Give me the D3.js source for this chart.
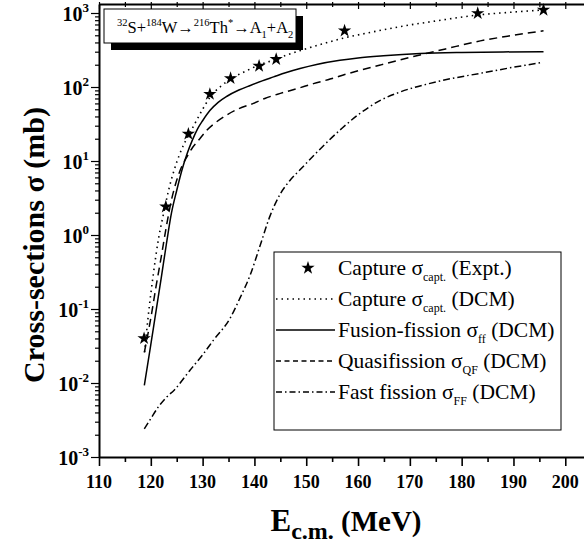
<!DOCTYPE html>
<html>
<head>
<meta charset="utf-8">
<script src="https://cdn.jsdelivr.net/npm/d3@7"></script>
<style>
  html, body { margin: 0; padding: 0; background: #fff; }
  svg { display: block; }
</style>
</head>
<body>
<svg id="chart" width="584" height="543" font-family="'Liberation Serif', serif"></svg>
<script>
// Measured capture cross-sections (Expt.)
const exptE = [118.7, 122.9, 127.25, 131.4, 135.4, 140.9, 144.2, 157.4, 183.1, 195.8];
const exptSigma = [0.040, 2.41, 23.2, 80, 131, 192, 237, 576, 991, 1098];

// DCM capture cross-section
const captE = [118.8, 119.5, 120.5, 121.5, 122.5, 123.5, 124.5, 125.5, 126.5, 127.25, 128.5, 130, 131.4, 133.7, 135.4, 138.5, 141, 144.2, 146.2, 148.8, 153, 157.3, 162, 168.1, 175, 183.2, 190, 195.8];
const captSigma = [0.026, 0.08, 0.3, 0.9, 2.0, 4.2, 7.5, 12, 17.5, 22, 32, 50, 72, 105, 128, 166, 200, 237, 270, 310, 380, 460, 540, 654, 780, 940, 1030, 1100];

// DCM fusion-fission
const ffE = [118.75, 120, 121, 122, 123, 124, 125, 126, 127, 128, 129, 130, 131.4, 133, 134.7, 137, 139.2, 141.5, 143.7, 146, 148.8, 152, 156.5, 160, 164.9, 172, 180, 188, 195.8];
const ffSigma = [0.0093, 0.033, 0.093, 0.26, 0.75, 2.0, 4.0, 7.5, 12.5, 19, 27, 35, 48, 62, 75, 91, 105, 121, 137, 156, 178, 202, 230, 247, 264, 283, 293, 298, 300];

// DCM quasifission
const qfE = [118.75, 120, 121, 122, 123, 124, 125, 126, 127, 128, 129.2, 130.8, 132.5, 134.7, 137, 139.8, 142, 145, 148.2, 151.4, 154.6, 157.8, 164.3, 170.7, 177.1, 183.6, 190, 195.8];
const qfSigma = [0.026, 0.075, 0.2, 0.5, 1.3, 3.0, 5.5, 8.5, 11.5, 15, 19, 26, 33, 42, 51, 60, 70, 82, 95, 111, 128, 150, 198, 258, 330, 420, 500, 576];

// DCM fast fission
const fastE = [118.75, 120, 121.5, 123.1, 124.5, 127.6, 130, 132.1, 135.3, 137.2, 139.2, 141.1, 143, 145, 146.9, 148.8, 152, 156.9, 160, 164.3, 168, 173.9, 178, 183.6, 190, 195.5];
const fastSigma = [0.0024, 0.0033, 0.0048, 0.0065, 0.008, 0.015, 0.024, 0.038, 0.075, 0.14, 0.29, 0.72, 1.8, 3.6, 5.5, 7.6, 13, 27.7, 42, 66, 85, 112, 130, 153, 185, 214];

const xTickValues = [110, 120, 130, 140, 150, 160, 170, 180, 190, 200];
const yTickExponents = [-3, -2, -1, 0, 1, 2, 3];

const svg = d3.select("#chart");
const plotLeft = 99, plotRight = 586, plotTop = 4, plotBottom = 457;
const serif = "'Liberation Serif', serif";

const x = d3.scaleLinear().domain([110, 204]).range([plotLeft, plotRight]);
// 10^-3 sits on the bottom axis, 10^3 a little below the top frame
const yMax = Math.pow(10, 3 + 9 / 74);
const y = d3.scaleLog().domain([1e-3, yMax]).range([plotBottom, plotTop]);

// ---- frame and axes ----
// bottom axis with ticks every 5 MeV, pointing out
const xMinor = d3.range(110, 205, 5);
const gx = svg.append("g").attr("transform", `translate(0,${plotBottom})`)
  .call(d3.axisBottom(x).tickValues(xMinor).tickSize(0).tickFormat(""));
gx.select(".domain").attr("stroke-width", 2);
gx.selectAll(".tick line").remove();
gx.selectAll(".tick").append("line")
  .attr("stroke", "#000").attr("stroke-width", 1.6)
  .attr("y2", d => (d % 10 === 0 ? 9 : 5));

// top axis: frame line with small inward ticks
const gxt = svg.append("g").attr("transform", `translate(0,${plotTop})`)
  .call(d3.axisTop(x).tickValues(xMinor).tickSize(0).tickFormat(""));
gxt.select(".domain").attr("stroke-width", 2);
gxt.selectAll(".tick line").remove();
gxt.selectAll(".tick").append("line")
  .attr("stroke", "#000").attr("stroke-width", 1.2)
  .attr("y1", -2).attr("y2", d => (d % 10 === 0 ? 5 : 3));

// left axis with log minor ticks, pointing out
const yTicksAll = [];
for (let e = -3; e <= 3; e++) {
  for (let k = 1; k <= 9; k++) {
    const v = k * Math.pow(10, e);
    if (v <= yMax * 1.0001) yTicksAll.push({ v, major: k === 1 });
  }
}
const gy = svg.append("g").attr("transform", `translate(${plotLeft},0)`)
  .call(d3.axisLeft(y).tickValues(yTicksAll.map(d => d.v)).tickSize(0).tickFormat(""));
gy.select(".domain").attr("stroke-width", 2);
gy.selectAll(".tick line").remove();
gy.selectAll(".tick").data(yTicksAll).append("line")
  .attr("stroke", "#000").attr("stroke-width", 1.2)
  .attr("x2", d => (d.major ? -8 : -4));

// all text below uses the serif face
const txt = svg.append("g").attr("font-family", serif).attr("fill", "#000");

// tick labels
txt.append("g").selectAll("text").data(xTickValues).join("text")
  .attr("x", d => x(d)).attr("y", 488)
  .attr("text-anchor", "middle")
  .attr("font-size", 18).attr("font-weight", "bold")
  .text(d => d);

const yl = txt.append("g").selectAll("text").data(yTickExponents).join("text")
  .attr("x", 89).attr("y", d => y(Math.pow(10, d)) + 8)
  .attr("text-anchor", "end")
  .attr("font-size", 20).attr("font-weight", "bold");
yl.append("tspan").text("10");
yl.append("tspan").attr("dy", -9).attr("font-size", 13).text(d => String(d));

// axis titles
const xt = txt.append("text").attr("x", 346).attr("y", 531)
  .attr("text-anchor", "middle").attr("font-weight", "bold");
xt.append("tspan").attr("font-size", 31).text("E");
xt.append("tspan").attr("font-size", 24).attr("dy", 8).text("c.m.");
xt.append("tspan").attr("font-size", 29).attr("dy", -8).text(" (MeV)");

txt.append("text")
  .attr("transform", "translate(44,245) rotate(-90)")
  .attr("text-anchor", "middle")
  .attr("font-size", 30).attr("font-weight", "bold")
  .text("Cross-sections σ (mb)");

// ---- curves ----
const plot = svg.append("g");
const line = d3.line().x(d => x(d[0])).y(d => y(d[1])).curve(d3.curveMonotoneX);
const series = [
  { E: captE, s: captSigma, dash: "1.5,4", width: 1.6 },
  { E: ffE, s: ffSigma, dash: null, width: 1.5 },
  { E: qfE, s: qfSigma, dash: "8,5", width: 1.5 },
  { E: fastE, s: fastSigma, dash: "7,3,1.5,3", width: 1.5 }
];
series.forEach(sr => {
  plot.append("path")
    .datum(d3.zip(sr.E, sr.s))
    .attr("fill", "none").attr("stroke", "#000")
    .attr("stroke-width", sr.width)
    .attr("stroke-dasharray", sr.dash)
    .attr("d", line);
});

const star = d3.symbol().type(d3.symbolStar).size(55);
plot.selectAll(".star").data(d3.zip(exptE, exptSigma)).join("path")
  .attr("class", "star")
  .attr("transform", d => `translate(${x(d[0])},${y(d[1])})`)
  .attr("d", star).attr("fill", "#000");

// ---- reaction label box ----
const tb = svg.append("g").attr("font-family", serif);
tb.append("rect").attr("x", 111).attr("y", 16).attr("width", 192).attr("height", 34).attr("fill", "#000");
tb.append("rect").attr("x", 104).attr("y", 9).attr("width", 192).attr("height", 34)
  .attr("fill", "#fff").attr("stroke", "#000").attr("stroke-width", 1);
const tt = tb.append("text").attr("x", 117).attr("y", 33).attr("font-size", 16.5);
tt.append("tspan").attr("font-size", 10.5).attr("dy", -7).text("32");
tt.append("tspan").attr("dy", 7).text("S+");
tt.append("tspan").attr("font-size", 10.5).attr("dy", -7).text("184");
tt.append("tspan").attr("dy", 7).text("W→");
tt.append("tspan").attr("font-size", 10.5).attr("dy", -7).text("216");
tt.append("tspan").attr("dy", 7).text("Th");
tt.append("tspan").attr("font-size", 10.5).attr("dy", -7).text("*");
tt.append("tspan").attr("dy", 7).text("→A");
tt.append("tspan").attr("font-size", 10.5).attr("dy", 5).text("1");
tt.append("tspan").attr("dy", -5).text("+A");
tt.append("tspan").attr("font-size", 10.5).attr("dy", 5).text("2");

// ---- legend ----
const lg = svg.append("g").attr("font-family", serif);
lg.append("rect").attr("x", 274).attr("y", 252).attr("width", 287).attr("height", 178)
  .attr("fill", "#fff").attr("stroke", "#000").attr("stroke-width", 1);
const legendItems = [
  { main: "Capture σ", sub: "capt.", tail: " (Expt.)", kind: "star" },
  { main: "Capture σ", sub: "capt.", tail: " (DCM)", kind: "line", dash: "1.5,4", width: 1.6 },
  { main: "Fusion-fission σ", sub: "ff", tail: " (DCM)", kind: "line", dash: null, width: 1.5 },
  { main: "Quasifission σ", sub: "QF", tail: " (DCM)", kind: "line", dash: "5,3.5", width: 1.5 },
  { main: "Fast fission σ", sub: "FF", tail: " (DCM)", kind: "line", dash: "6,3,1.5,3", width: 1.5 }
];
legendItems.forEach((it, i) => {
  const cy = 268 + i * 31;
  if (it.kind === "star") {
    lg.append("path").attr("transform", `translate(308,${cy})`).attr("d", star).attr("fill", "#000");
  } else {
    lg.append("line").attr("x1", 276).attr("x2", 335).attr("y1", cy).attr("y2", cy)
      .attr("stroke", "#000").attr("stroke-width", it.width).attr("stroke-dasharray", it.dash);
  }
  const t = lg.append("text").attr("x", 338).attr("y", cy + 7).attr("font-size", 21.5);
  t.append("tspan").text(it.main);
  t.append("tspan").attr("font-size", 12).attr("dy", 6).text(it.sub);
  t.append("tspan").attr("dy", -6).text(it.tail);
});
</script>
</body>
</html>
